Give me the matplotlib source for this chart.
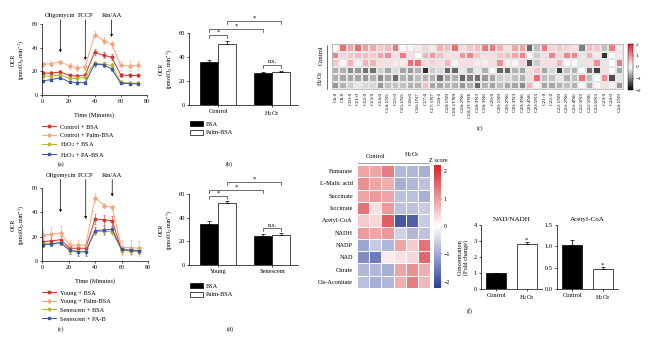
import numpy as np
import matplotlib
matplotlib.use("Agg")
import matplotlib.pyplot as plt
from matplotlib.colors import LinearSegmentedColormap
from matplotlib.lines import Line2D
from matplotlib.patches import Patch

plt.rcParams['font.family'] = ['Liberation Serif', 'DejaVu Serif']
plt.rcParams['mathtext.default'] = 'regular'
plt.rcParams['axes.linewidth'] = 0.5
plt.rcParams['xtick.major.width'] = 0.5
plt.rcParams['ytick.major.width'] = 0.5
plt.rcParams['xtick.major.size'] = 1.5
plt.rcParams['ytick.major.size'] = 1.5
plt.rcParams['xtick.major.pad'] = 1.5
plt.rcParams['ytick.major.pad'] = 1.5

# ---------------- data ----------------
time = [1, 7, 14, 21, 27, 33, 40, 47, 53, 60, 67, 73]

a_labels = ['Control + BSA', 'Control + Palm-BSA', 'H$_2$O$_2$ + BSA', 'H$_2$O$_2$ + PA-BSA']
a_ctrl_bsa = [18.5, 18.5, 19.5, 16.5, 16, 17, 36, 33.5, 32, 17, 16.5, 16.5]
a_ctrl_palm = [26, 26.5, 28, 24.5, 23, 24, 51, 46, 43, 25, 24.5, 25]
a_h2o2_bsa = [16, 16, 17, 14, 14, 15, 27, 26, 25, 11, 10, 10]
a_h2o2_pa = [12, 13, 14.5, 11, 10.5, 10.5, 26, 25.5, 22, 10, 9.5, 9.5]
a_err_ctrl_bsa = [1.5, 1.5, 1.5, 1.5, 1.5, 1.5, 2.5, 2.5, 2.5, 1.5, 1.5, 1.5]
a_err_ctrl_palm = [2, 2, 2, 2.5, 2.5, 2.5, 3, 3, 3, 4, 4, 4]
a_err_h2o2_bsa = [1.5, 1.5, 1.5, 1.5, 1.5, 1.5, 2, 2, 2, 1.5, 1.5, 1.5]
a_err_h2o2_pa = [1, 1, 1, 1, 1, 1, 2, 2, 2, 1, 1, 1]

c_labels = ['Young + BSA', 'Young + Palm-BSA', 'Senescent + BSA', 'Senescent + PA-B']
c_young_bsa = [16, 16.5, 17.5, 10.5, 10.5, 10.5, 34.5, 34, 33, 9, 8.5, 8.5]
c_young_palm = [21, 22, 23, 13, 13, 13, 52, 45.5, 44, 11, 11, 10.5]
c_sen_bsa = [14, 14, 15, 8.5, 8, 8, 24, 24.5, 24, 9, 8, 8]
c_sen_pa = [13.5, 14, 15, 9, 7.5, 7.5, 25, 25.5, 26, 9.5, 9, 8.5]
c_err_young_bsa = [3, 3, 3, 3, 3, 3, 4, 4, 4, 3, 3, 3]
c_err_young_palm = [5, 6, 6, 4, 4, 4, 4, 2, 2, 6, 6, 6]
c_err_sen_bsa = [2, 2, 2, 3, 3, 3, 3, 3, 3, 2, 2, 2]
c_err_sen_pa = [2, 2, 2, 3, 3, 3, 3, 3, 3, 2, 2, 2]

series_colors = ['#d7312a', '#f6a47c', '#b8b42c', '#3b56a0']
series_markers = ['o', 'D', 'o', 's']

injections = ['Oligomycin', 'FCCP', 'Rtn/AA']
injection_times = [14, 33, 53]

b_groups = ['Control', 'H$_2$O$_2$']
b_bsa = [35.8, 26.5]
b_palm = [51, 27.5]
b_bsa_err = [1.5, 1.2]
b_palm_err = [2.0, 1.0]

d_groups = ['Young', 'Senescent']
d_bsa = [35, 24.5]
d_palm = [52.5, 25.5]
d_bsa_err = [2.0, 1.5]
d_palm_err = [1.5, 1.5]

bar_legend = ['BSA', 'Palm-BSA']

fa_labels = ['C6:0', 'C8:0', 'C10:0', 'C11:0', 'C12:0', 'C13:0', 'C14:0', 'C14:1N5', 'C15:0',
             'C15:1N5', 'C16:0', 'C16:1N7', 'C17:0', 'C17:1N7', 'C18:0', 'C18:1N9', 'C18:1TN9',
             'C18:2N6', 'C18:2TTN6', 'C18:3N3', 'C18:3N6', 'C20:0', 'C20:1N9', 'C20:2N6',
             'C20:3N3', 'C20:3N6', 'C20:4N6', 'C20:5N3', 'C21:0', 'C22:0', 'C22:1N9', 'C22:2N6',
             'C22:4N6', 'C22:5N3', 'C22:5N6', 'C22:6N3', 'C23:0', 'C24:0', 'C24:1N9']
fa_ctrl1 = [0.05, 1.3, 0.8, 1.3, 0.9, 0.8, 0.5, 0.6, 1.2, 0.05, 0.1, 0.2, 0.4,
            0.2, 0.7, 0.6, 1.3, 0.3, 0.5, 0.6, 1.2, 1.2, 0.7, 0.3, 0.8, 0.8, -1.2, -0.5,
            1.2, 0.4, 0.5, 0.4, 0.3, -1.0, 0.6, 0.5, -0.5, 1.2, 0.2]
fa_ctrl2 = [1.1, 0.4, 0.5, 0.6, 0.6, 0.5, 0.8, 1.0, 0.3, 1.2, 0.3, 0.05, 0.7,
            0.9, 0.6, 0.3, 0.3, 0.9, 1.1, 0.5, 0.3, 0.3, 0.5, 0.6, 0.8, 1.1, 0.0, -0.4,
            0.3, 1.1, 0.4, 1.1, 1.1, -0.2, 0.7, 0.2, -1.6, 0.0, 0.2]
fa_ctrl3 = [0.5, 0.1, 0.7, -0.1, 0.7, 0.7, 0.3, 0.3, 0.2, 0.2, 1.3, 1.3, 0.3,
            0.4, 0.3, 0.7, 0.1, 0.3, 0.3, 0.2, 0.2, 0.3, 1.0, -0.1, 0.1, 0.4, -1.3, -0.4,
            0.3, 0.3, 0.7, 0.0, 0.0, -0.2, 0.3, 1.0, -0.2, 0.0, 1.2]
fa_h2o2_1 = [-0.6, -0.6, -0.9, -0.8, -1.1, -1.1, -0.4, -0.7, -0.3, -0.7, -0.8, -0.6, -1.6,
             -0.4, -0.3, -1.2, -1.2, -0.2, -0.7, -0.2, -0.6, 0.0, -1.2, -1.2, -0.6, -0.7, 0.3, 0.5,
             -0.7, -0.3, -1.5, -0.5, -0.6, 0.0, -1.1, -1.5, 0.3, 0.0, -0.7]
fa_h2o2_2 = [-0.6, -0.7, -0.7, -0.7, -0.8, -0.6, -0.9, -0.7, -1.2, -0.6, -0.7, -0.5, -0.6,
             -0.6, -1.1, -0.7, -0.6, -1.2, -1.0, -1.1, -0.8, -0.7, -0.4, -0.3, -0.5, -0.6, 0.3, 1.3,
             -0.5, -0.5, -0.2, -0.6, -0.5, 1.3, -0.5, 0.0, 1.0, -1.4, -0.2]
fa_h2o2_3 = [-0.8, -0.6, -0.4, -0.2, -0.3, -0.3, -0.8, -0.5, -0.5, -0.5, -0.6, -0.6, 0.6,
             -0.7, -0.7, -0.6, -0.6, -0.8, -0.6, -1.2, -0.6, -0.7, -0.5, -0.7, -0.7, -0.9, 0.7, 0.1,
             -0.7, -0.7, -0.6, -0.5, -0.6, 0.0, -0.6, 0.1, 0.3, 0.1, -0.8]

met_labels = ['Fumarate', 'L-Malic acid', 'Succinate', 'Isocitrate', 'Acetyl-CoA', 'NADH',
              'NADP', 'NAD', 'Citrate', 'Cis-Aconitate']
met_fumarate = [0.9, 0.9, 1.3, -0.8, -0.8, -0.9]
met_malic = [1.1, 0.9, 0.8, -0.9, -0.8, -0.7]
met_succinate = [0.9, 1.0, 0.9, -0.7, -0.7, -0.9]
met_isocitrate = [1.4, 0.3, 1.0, -0.7, -0.7, -0.6]
met_acetylcoa = [0.5, 0.4, 1.6, -1.9, -1.8, -0.6]
met_nadh = [1.0, 0.9, 1.0, -0.5, -0.8, -0.7]
met_nadp = [-1.0, -0.6, -0.8, 0.9, 0.5, 1.4]
met_nad = [-1.3, -1.5, 0.2, 0.3, 0.4, 1.5]
met_citrate = [-0.8, -0.8, -0.9, 0.9, 1.1, 0.8]
met_cisaco = [-0.7, -0.9, -0.8, 0.8, 1.3, 0.7]

f_groups = ['Control', 'H$_2$O$_2$']
f_nad_ratio = [1.0, 2.8]
f_nad_ratio_err = [0.02, 0.15]
f_acetyl = [1.04, 0.48]
f_acetyl_err = [0.12, 0.03]

# ---------------- layout ----------------
W, H = 650, 343
fig = plt.figure(figsize=(6.5, 3.43), dpi=100)


def box(x0, y0, x1, y1):
    return [x0 / W, 1 - y1 / H, (x1 - x0) / W, (y1 - y0) / H]


def fx(x):
    return x / W


def fy(y):
    return 1 - y / H


FS = 4.3
ocr_label = 'OCR\n(pmolO$_2$.min$^{-1}$)'


def timecourse(ax, ys, errs, labels, arrow_tips, text_y, leg_top):
    for y, e, c, m, lab in zip(ys, errs, series_colors, series_markers, labels):
        ax.errorbar(time, y, yerr=e, color=c, marker=m, ms=1.8, lw=0.7,
                    elinewidth=0.4, capsize=0.8, capthick=0.4, label=lab)
    ax.set_xlim(0, 80)
    ax.set_ylim(0, 60)
    ax.set_xticks([0, 20, 40, 60, 80])
    ax.set_yticks([0, 20, 40, 60])
    ax.tick_params(labelsize=FS)
    for s in ['top', 'right']:
        ax.spines[s].set_visible(False)
    ax.set_xlabel('Time (Minutes)', fontsize=FS + 0.3, labelpad=6)
    ax.set_ylabel(ocr_label, fontsize=FS, labelpad=4, linespacing=1.1)
    for name, t, tip in zip(injections, injection_times, arrow_tips):
        ax.text(t, text_y, name, fontsize=FS + 0.3, ha='center', va='center', clip_on=False)
        ax.annotate('', xy=(t, tip), xytext=(t, text_y - 3.5),
                    arrowprops=dict(arrowstyle='-|>', lw=0.5, color='black',
                                    mutation_scale=3.5, shrinkA=0, shrinkB=0),
                    annotation_clip=False)
    handles = [Line2D([0], [0], color=c, marker=m, ms=1.8, lw=0.7)
               for c, m in zip(series_colors, series_markers)]
    ax.legend(handles, labels, loc='upper left', bbox_to_anchor=(fx(42), fy(leg_top)),
              bbox_transform=fig.transFigure, frameon=False, fontsize=FS + 0.2,
              handlelength=2.2, handleheight=1.35, handletextpad=0.7, labelspacing=0.27,
              borderpad=0, borderaxespad=0)


# (a)
ax_a = fig.add_axes(box(42, 24, 147, 95))
timecourse(ax_a, [a_ctrl_bsa, a_ctrl_palm, a_h2o2_bsa, a_h2o2_pa],
           [a_err_ctrl_bsa, a_err_ctrl_palm, a_err_h2o2_bsa, a_err_h2o2_pa],
           a_labels, [36, 29.5, 49], 67, 123)
fig.text(fx(61), fy(164), '(a)', fontsize=FS, ha='center', va='center')

# (c) timecourse
ax_c2 = fig.add_axes(box(42, 188, 148, 261))
timecourse(ax_c2, [c_young_bsa, c_young_palm, c_sen_bsa, c_sen_pa],
           [c_err_young_bsa, c_err_young_palm, c_err_sen_bsa, c_err_sen_pa],
           c_labels, [40, 34.5, 53], 70.5, 289)
fig.text(fx(61), fy(329), '(c)', fontsize=FS, ha='center', va='center')


def barpanel(ax, groups, bsa, palm, bsa_err, palm_err, brackets, leg_top):
    x = np.arange(len(groups))
    w = 0.34
    ax.bar(x - w / 2, bsa, w, color='black', edgecolor='black', lw=0.5)
    ax.bar(x + w / 2, palm, w, color='white', edgecolor='black', lw=0.5)
    ax.errorbar(x - w / 2, bsa, yerr=[np.zeros(len(x)), bsa_err], fmt='none',
                ecolor='black', elinewidth=0.5, capsize=1.5, capthick=0.5)
    ax.errorbar(x + w / 2, palm, yerr=[np.zeros(len(x)), palm_err], fmt='none',
                ecolor='black', elinewidth=0.5, capsize=1.5, capthick=0.5)
    ax.set_xlim(-0.54, 1.48)
    ax.set_ylim(0, 60)
    ax.set_yticks([0, 20, 40, 60])
    ax.set_xticks(x)
    ax.set_xticklabels(groups)
    ax.tick_params(labelsize=FS + 0.3)
    ax.tick_params(axis='x', length=1.5)
    for s in ['top', 'right']:
        ax.spines[s].set_visible(False)
    ax.set_ylabel(ocr_label, fontsize=FS, labelpad=3, linespacing=1.1)
    pos = {'b0': -w / 2, 'p0': w / 2, 'b1': 1 - w / 2, 'p1': 1 + w / 2}
    for (l, r, yb, txt) in brackets:
        x0, x1 = pos[l], pos[r]
        ax.plot([x0, x0, x1, x1], [yb - 2.5, yb, yb, yb - 2.5], color='black', lw=0.4,
                clip_on=False)
        ax.text((x0 + x1) / 2, yb + 0.5, txt, fontsize=FS + 0.5, ha='center', va='bottom')
    handles = [Patch(facecolor='black', edgecolor='black', lw=0.5),
               Patch(facecolor='white', edgecolor='black', lw=0.5)]
    ax.legend(handles, bar_legend, loc='upper left', bbox_to_anchor=(fx(190), fy(leg_top)),
              bbox_transform=fig.transFigure, frameon=False, fontsize=FS + 0.2,
              handlelength=2.0, handleheight=0.9, handletextpad=0.6, labelspacing=0.45,
              borderpad=0, borderaxespad=0)


ax_b = fig.add_axes(box(189, 33, 298, 105))
barpanel(ax_b, b_groups, b_bsa, b_palm, b_bsa_err, b_palm_err,
         [('b0', 'p0', 58.5, '*'), ('b0', 'b1', 63, '*'), ('p0', 'p1', 70, '*'),
          ('b1', 'p1', 33.5, 'n.s.')], 121)
fig.text(fx(229), fy(164), '(b)', fontsize=FS, ha='center', va='center')

ax_d = fig.add_axes(box(189, 194, 298, 265))
barpanel(ax_d, d_groups, d_bsa, d_palm, d_bsa_err, d_palm_err,
         [('b0', 'p0', 58.5, '*'), ('b0', 'b1', 63, '*'), ('p0', 'p1', 70, '*'),
          ('b1', 'p1', 31, 'n.s.')], 283)
fig.text(fx(230), fy(329), '(d)', fontsize=FS, ha='center', va='center')

# (c) fatty acid heatmap
cmap_gr = LinearSegmentedColormap.from_list('gr', ['#000000', '#ffffff', '#e3202b'])
fa = np.array([fa_ctrl1, fa_ctrl2, fa_ctrl3, fa_h2o2_1, fa_h2o2_2, fa_h2o2_3])
ax_h = fig.add_axes(box(332, 44, 623, 89))
mesh = ax_h.pcolormesh(fa, cmap=cmap_gr, vmin=-2, vmax=2, edgecolors='#e6e6e6', linewidth=0.3)
ax_h.set_xlim(0, fa.shape[1])
ax_h.set_ylim(fa.shape[0], 0)
ax_h.set_xticks(np.arange(fa.shape[1]) + 0.5)
ax_h.set_xticklabels(fa_labels, rotation=90, fontsize=3.9)
ax_h.set_yticks([])
ax_h.tick_params(axis='x', length=0, pad=2)
for s in ax_h.spines.values():
    s.set_color('#999999')
    s.set_linewidth(0.4)
for lab, (y0, y1) in zip(['Control', 'H$_2$O$_2$'], [(0.08, 3), (3.1, 5.95)]):
    ax_h.plot([-0.7, -0.7], [y0, y1], color='black', lw=0.4, clip_on=False)
    ax_h.text(-1.5, (y0 + y1) / 2, lab, rotation=90, fontsize=FS + 0.3, ha='center',
              va='center')
cax_h = fig.add_axes(box(628, 44, 633, 90))
cb = fig.colorbar(mesh, cax=cax_h, ticks=[-2, -1, 0, 1, 2])
cb.outline.set_linewidth(0.3)
cax_h.tick_params(labelsize=3.8, length=1, width=0.3, pad=1)
fig.text(fx(480), fy(128), '(c)', fontsize=FS, ha='center', va='center')

# (e) metabolite heatmap
cmap_bwr = LinearSegmentedColormap.from_list('bwr2', ['#2a3d97', '#ffffff', '#d3242a'])
met = np.array([met_fumarate, met_malic, met_succinate, met_isocitrate, met_acetylcoa,
                met_nadh, met_nadp, met_nad, met_citrate, met_cisaco])
ax_e = fig.add_axes(box(357, 165, 430, 288))
mesh_e = ax_e.pcolormesh(met, cmap=cmap_bwr, vmin=-2.2, vmax=2.2, edgecolors='white',
                         linewidth=0.4)
ax_e.set_xlim(0, met.shape[1])
ax_e.set_ylim(met.shape[0], 0)
ax_e.set_yticks(np.arange(met.shape[0]) + 0.5)
ax_e.set_yticklabels(met_labels, fontsize=FS + 0.2)
ax_e.set_xticks([])
ax_e.tick_params(axis='y', length=0, pad=3)
for s in ax_e.spines.values():
    s.set_visible(False)
for lab, (x0, x1) in zip(['Control', 'H$_2$O$_2$'], [(0.05, 2.95), (3.05, 5.95)]):
    ax_e.plot([x0, x1], [-0.2, -0.2], color='#555555', lw=0.4, clip_on=False)
    ax_e.text((x0 + x1) / 2, -0.45, lab, fontsize=FS + 0.3, ha='center', va='bottom')
cax_e = fig.add_axes(box(434, 165, 441, 288))
cbe = fig.colorbar(mesh_e, cax=cax_e, ticks=[-2, -1, 0, 1, 2])
cbe.outline.set_visible(False)
cax_e.tick_params(labelsize=FS, length=1, width=0.3, pad=1)
fig.text(fx(438), fy(160), 'Z score', fontsize=FS + 0.2, ha='center', va='center')


# (f)
def fpanel(ax, vals, errs, ylim, yticks, fmt, title, star_off):
    x = np.arange(2)
    ax.bar(x, vals, 0.66, color=['black', 'white'], edgecolor='black', lw=0.5)
    ax.errorbar(x, vals, yerr=[np.zeros(2), errs], fmt='none', ecolor='black',
                elinewidth=0.5, capsize=1.5, capthick=0.5)
    ax.set_xlim(-0.5, 1.5)
    ax.set_ylim(*ylim)
    ax.set_yticks(yticks)
    ax.set_yticklabels([fmt.format(v) for v in yticks])
    ax.set_xticks(x)
    ax.set_xticklabels(f_groups)
    ax.tick_params(labelsize=FS + 0.3)
    for s in ['top', 'right']:
        ax.spines[s].set_visible(False)
    ax.set_title(title, fontsize=FS + 0.8, pad=3)
    ax.text(1, vals[1] + errs[1] + star_off, '*', fontsize=FS + 0.5, ha='center',
            va='center')


ax_f1 = fig.add_axes(box(481, 225, 542, 289))
fpanel(ax_f1, f_nad_ratio, f_nad_ratio_err, (0, 4), [0, 1, 2, 3, 4], '{:.0f}', 'NAD/NADH', 0.12)
ax_f1.set_ylabel('Concentration\n(Fold change)', fontsize=FS + 0.2, labelpad=3, linespacing=1.1)
ax_f2 = fig.add_axes(box(557, 225, 618, 289))
fpanel(ax_f2, f_acetyl, f_acetyl_err, (0, 1.5), [0.0, 0.5, 1.0, 1.5], '{:.1f}', 'Acetyl-CoA', 0.05)
fig.text(fx(470), fy(311), '(f)', fontsize=FS, ha='center', va='center')

fig.savefig('out.png', dpi=100)
